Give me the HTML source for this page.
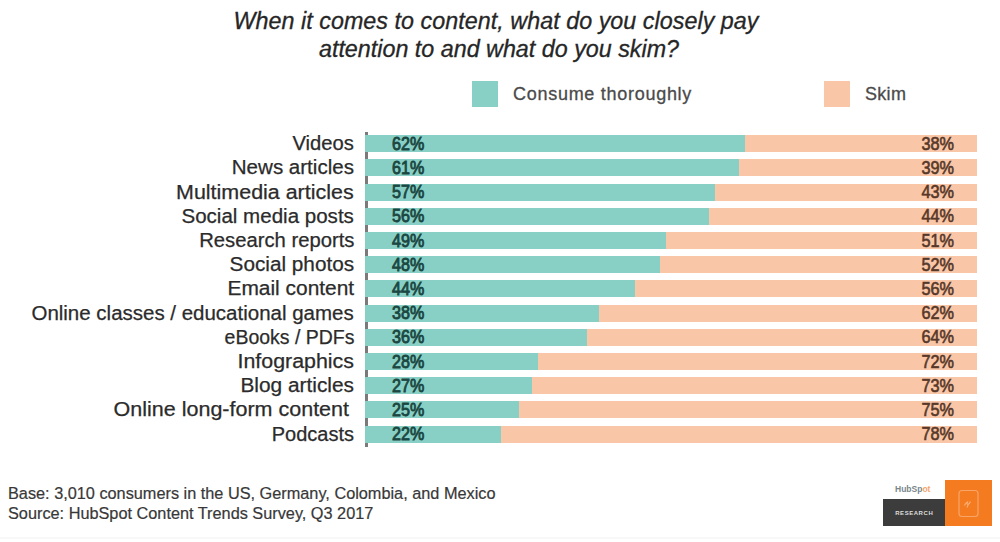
<!DOCTYPE html>
<html><head><meta charset="utf-8"><style>
html,body{margin:0;padding:0;background:#fff;}
body{width:1000px;height:542px;position:relative;overflow:hidden;font-family:"Liberation Sans",sans-serif;}
.t{position:absolute;left:0;width:1000px;text-align:center;font-style:italic;font-size:23.3px;color:#262626;white-space:nowrap;line-height:27px;-webkit-text-stroke:0.3px #262626;}
.lab{position:absolute;font-size:20px;line-height:20px;color:#2b2b2b;-webkit-text-stroke:0.25px #2b2b2b;white-space:nowrap;transform-origin:right center;}
.bar{position:absolute;left:365px;width:612px;z-index:2;}
.tl{position:absolute;left:0;top:0;bottom:0;background:#88d0c6;}
.pl{position:absolute;right:0;top:0;bottom:0;background:#f9c6a8;}
.pc{position:absolute;z-index:3;font-size:17.5px;line-height:19px;white-space:nowrap;font-weight:normal;-webkit-text-stroke:0.85px currentColor;}
.pc.l{left:392px;color:#1b4741;transform-origin:left center;transform:scaleX(0.92);}
.pc.r{right:46px;color:#573828;-webkit-text-stroke:0.6px #573828;transform-origin:right center;transform:scaleX(0.93);}
.axis{position:absolute;left:365px;width:3px;top:132px;height:315px;background:#7a7a7a;z-index:1;}
.sq{position:absolute;width:26px;height:26px;top:81px;}
.lg{position:absolute;top:83.8px;font-size:18px;line-height:20px;color:#4a4a4a;-webkit-text-stroke:0.3px #4a4a4a;white-space:nowrap;}
.ft{position:absolute;left:8px;font-size:16.3px;line-height:20px;color:#383838;-webkit-text-stroke:0.2px #383838;white-space:nowrap;}
</style></head><body>
<div class="t" style="top:8.4px;left:-4px;letter-spacing:0.04px">When it comes to content, what do you closely pay</div>
<div class="t" style="top:36px;left:-1px">attention to and what do you skim?</div>
<div class="sq" style="left:472px;background:#88d0c6"></div>
<div class="lg" style="left:513px;letter-spacing:0.72px">Consume thoroughly</div>
<div class="sq" style="left:824px;background:#f9c6a8"></div>
<div class="lg" style="left:865px;letter-spacing:0.3px">Skim</div>
<div class="lab" style="top:133.1px;right:646px;transform:scaleX(1.01)">Videos</div>
<div class="bar" style="top:135.1px;height:17px"><div class="tl" style="width:380px"></div><div class="pl" style="left:380px"></div></div>
<div class="pc l" style="top:134.7px">62%</div>
<div class="pc r" style="top:134.7px">38%</div>
<div class="lab" style="top:157.3px;right:646px;transform:scaleX(1.027)">News articles</div>
<div class="bar" style="top:159.3px;height:17px"><div class="tl" style="width:374px"></div><div class="pl" style="left:374px"></div></div>
<div class="pc l" style="top:158.9px">61%</div>
<div class="pc r" style="top:158.9px">39%</div>
<div class="lab" style="top:181.5px;right:646px;transform:scaleX(1.072)">Multimedia articles</div>
<div class="bar" style="top:183.5px;height:17px"><div class="tl" style="width:350px"></div><div class="pl" style="left:350px"></div></div>
<div class="pc l" style="top:183.1px">57%</div>
<div class="pc r" style="top:183.1px">43%</div>
<div class="lab" style="top:205.7px;right:646px;transform:scaleX(1.027)">Social media posts</div>
<div class="bar" style="top:207.7px;height:17px"><div class="tl" style="width:344px"></div><div class="pl" style="left:344px"></div></div>
<div class="pc l" style="top:207.29999999999998px">56%</div>
<div class="pc r" style="top:207.29999999999998px">44%</div>
<div class="lab" style="top:229.9px;right:646px;transform:scaleX(1.012)">Research reports</div>
<div class="bar" style="top:231.9px;height:17px"><div class="tl" style="width:301px"></div><div class="pl" style="left:301px"></div></div>
<div class="pc l" style="top:231.5px">49%</div>
<div class="pc r" style="top:231.5px">51%</div>
<div class="lab" style="top:254.10000000000002px;right:646px;transform:scaleX(1.037)">Social photos</div>
<div class="bar" style="top:256.1px;height:17px"><div class="tl" style="width:295px"></div><div class="pl" style="left:295px"></div></div>
<div class="pc l" style="top:255.70000000000002px">48%</div>
<div class="pc r" style="top:255.70000000000002px">52%</div>
<div class="lab" style="top:278.3px;right:646px;transform:scaleX(1.046)">Email content</div>
<div class="bar" style="top:280.3px;height:17px"><div class="tl" style="width:270px"></div><div class="pl" style="left:270px"></div></div>
<div class="pc l" style="top:279.90000000000003px">44%</div>
<div class="pc r" style="top:279.90000000000003px">56%</div>
<div class="lab" style="top:302.5px;right:646px;transform:scaleX(1.024)">Online classes / educational games</div>
<div class="bar" style="top:304.5px;height:17px"><div class="tl" style="width:234px"></div><div class="pl" style="left:234px"></div></div>
<div class="pc l" style="top:304.1px">38%</div>
<div class="pc r" style="top:304.1px">62%</div>
<div class="lab" style="top:326.7px;right:646px;transform:scaleX(0.973)">eBooks / PDFs</div>
<div class="bar" style="top:328.7px;height:17px"><div class="tl" style="width:222px"></div><div class="pl" style="left:222px"></div></div>
<div class="pc l" style="top:328.3px">36%</div>
<div class="pc r" style="top:328.3px">64%</div>
<div class="lab" style="top:350.9px;right:646px;transform:scaleX(1.069)">Infographics</div>
<div class="bar" style="top:352.9px;height:17px"><div class="tl" style="width:173px"></div><div class="pl" style="left:173px"></div></div>
<div class="pc l" style="top:352.5px">28%</div>
<div class="pc r" style="top:352.5px">72%</div>
<div class="lab" style="top:375.1px;right:646px;transform:scaleX(1.042)">Blog articles</div>
<div class="bar" style="top:377.1px;height:17px"><div class="tl" style="width:167px"></div><div class="pl" style="left:167px"></div></div>
<div class="pc l" style="top:376.70000000000005px">27%</div>
<div class="pc r" style="top:376.70000000000005px">73%</div>
<div class="lab" style="top:399.3px;right:651px;transform:scaleX(1.075)">Online long-form content</div>
<div class="bar" style="top:401.3px;height:17px"><div class="tl" style="width:154px"></div><div class="pl" style="left:154px"></div></div>
<div class="pc l" style="top:400.90000000000003px">25%</div>
<div class="pc r" style="top:400.90000000000003px">75%</div>
<div class="lab" style="top:423.5px;right:646px;transform:scaleX(1.0)">Podcasts</div>
<div class="bar" style="top:425.5px;height:17px"><div class="tl" style="width:136px"></div><div class="pl" style="left:136px"></div></div>
<div class="pc l" style="top:425.1px">22%</div>
<div class="pc r" style="top:425.1px">78%</div>
<div class="axis"></div>
<div style="position:absolute;left:0;top:537px;width:1000px;height:2px;background:#f8f8f8"></div>
<div class="ft" style="top:483px">Base: 3,010 consumers in the US, Germany, Colombia, and Mexico</div>
<div class="ft" style="top:503px">Source: HubSpot Content Trends Survey, Q3 2017</div>
<div style="position:absolute;left:883px;top:499px;width:62px;height:27px;background:#3c3c3c"></div>
<div style="position:absolute;left:883px;top:508.5px;width:62px;text-align:center;font-size:6px;font-weight:bold;letter-spacing:0.55px;color:#dedede;line-height:8px;text-indent:0.5px">RESEARCH</div>
<div style="position:absolute;left:945px;top:480px;width:47px;height:46px;background:#f47b20"></div>
<div style="position:absolute;left:895px;top:484px;font-size:8.5px;font-weight:bold;color:#7a868b;line-height:10px;letter-spacing:0px">HubSp<span style="color:#f5a46c">ot</span></div>
<svg style="position:absolute;left:945px;top:479px" width="47" height="47" viewBox="0 0 47 47">
<rect x="14" y="11.5" width="19" height="26" rx="3" fill="none" stroke="#f9a469" stroke-width="1.2"/>
<path d="M19.5 26.5 q1.5-3 3-3.5 q-1 2.5 0.5 2.5 q1.5-0.5 2.5-3 M22 28.5 l1.5-3.5" fill="none" stroke="#f9b07a" stroke-width="1.1"/>
</svg>
</body></html>
